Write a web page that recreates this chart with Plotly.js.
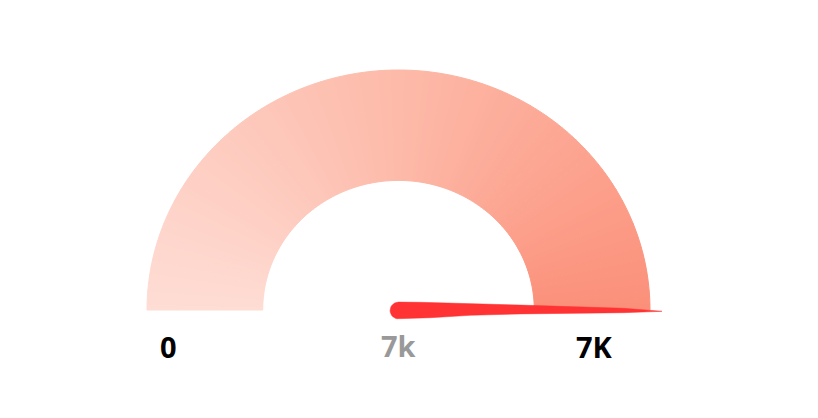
<!DOCTYPE html>
<html>
<head>
<meta charset="utf-8">
<script src="https://cdn.plot.ly/plotly-3.0.1.min.js"></script>
<style>html,body{margin:0;padding:0;background:#fff;}#chart{width:818px;height:418px;}</style>
</head>
<body>
<div id="chart"></div>
<script>
// ---- data ----
const gaugeMin = 0;
const gaugeMax = 7000;
const gaugeValue = 7000;
const minLabel = '0';
const maxLabel = '7K';
const valueLabel = '7k';

// ---- styling ----
const holeRatio = 0.54;
const segments = 120;
const colLeft = [254, 221, 213];
const colMid = [253, 186, 169];
const colRight = [251, 144, 122];
const needleColor = 'rgb(255,51,51)';
// pixel geometry of one data unit
const pxX = 251.5, pxY = 240;
const cxPx = 398.5, cyPx = 310;

function lerp(a, b, t) { return a.map((v, i) => Math.round(v + (b[i] - v) * t)); }
function colorAt(t) { // t: 0 (left) .. 1 (right)
  const c = t < 0.5 ? lerp(colLeft, colMid, t / 0.5) : lerp(colMid, colRight, (t - 0.5) / 0.5);
  return 'rgb(' + c.join(',') + ')';
}
function valueToAngle(v) {
  return Math.PI * (1 - (v - gaugeMin) / (gaugeMax - gaugeMin));
}

const traces = [];
for (let i = 0; i < segments; i++) {
  const v0 = gaugeMin + (gaugeMax - gaugeMin) * i / segments;
  const v1 = gaugeMin + (gaugeMax - gaugeMin) * (i + 1) / segments;
  const a0 = valueToAngle(v0), a1 = valueToAngle(v1);
  const xs = [], ys = [];
  const steps = 3;
  for (let k = 0; k <= steps; k++) {
    const a = a0 + (a1 - a0) * k / steps;
    xs.push(Math.cos(a)); ys.push(Math.sin(a));
  }
  for (let k = steps; k >= 0; k--) {
    const a = a0 + (a1 - a0) * k / steps;
    xs.push(holeRatio * Math.cos(a)); ys.push(holeRatio * Math.sin(a));
  }
  xs.push(xs[0]); ys.push(ys[0]);
  const col = colorAt((i + 0.5) / segments);
  traces.push({
    type: 'scatter', mode: 'lines', x: xs, y: ys, fill: 'toself',
    fillcolor: col, line: {color: col, width: 1}, hoverinfo: 'skip', showlegend: false
  });
}

// needle shape in pixel offsets (u along pointer, v perpendicular, screen-down positive)
const needleU = [0, 22, 122, 225, 263.5, 225, 122, 72, 32, 7];
const needleV = [-8.4, -8.2, -5.4, -2.2, 0.8, 2.2, 3.4, 4.8, 7.2, 8.4];
const ang = valueToAngle(gaugeValue);
const nx = [], ny = [];
const needleOffsetPx = 0.5; // pivot slightly below gauge baseline
function pushPt(u, v) {
  const sx = u * Math.cos(ang) + v * Math.sin(ang);
  const sy = -u * Math.sin(ang) + v * Math.cos(ang) + needleOffsetPx; // screen down positive
  nx.push(sx / pxX); ny.push(-sy / pxY);
}
for (let i = 0; i < needleU.length; i++) pushPt(needleU[i], needleV[i]);
for (let k = 1; k < 16; k++) {
  const a = Math.PI / 2 + Math.PI * k / 16;
  pushPt(8.4 * Math.cos(a), 8.4 * Math.sin(a));
}
nx.push(nx[0]); ny.push(ny[0]);
traces.push({
  type: 'scatter', mode: 'lines', x: nx, y: ny, fill: 'toself',
  fillcolor: needleColor, line: {color: needleColor, width: 0.5},
  hoverinfo: 'skip', showlegend: false
});

const W = 818, H = 418;
const layout = {
  width: W, height: H,
  margin: {l: 0, r: 0, t: 0, b: 0},
  paper_bgcolor: '#ffffff', plot_bgcolor: '#ffffff',
  xaxis: {range: [-cxPx / pxX, (W - cxPx) / pxX], visible: false, fixedrange: true},
  yaxis: {range: [(cyPx - H) / pxY, cyPx / pxY], visible: false, fixedrange: true},
  annotations: [
    {x: (168 - cxPx) / pxX, y: (cyPx - 346) / pxY, xref: 'x', yref: 'y', text: minLabel, showarrow: false,
     font: {family: 'Open Sans', size: 29, color: '#000000', weight: 700}},
    {x: (398 - cxPx) / pxX, y: (cyPx - 345) / pxY, xref: 'x', yref: 'y', text: valueLabel, showarrow: false,
     font: {family: 'Open Sans', size: 29, color: '#999999', weight: 700}},
    {x: (594 - cxPx) / pxX, y: (cyPx - 346) / pxY, xref: 'x', yref: 'y', text: maxLabel, showarrow: false,
     font: {family: 'Open Sans', size: 29, color: '#000000', weight: 700}}
  ]
};
Plotly.newPlot('chart', traces, layout, {displayModeBar: false, staticPlot: true});
</script>
</body>
</html>
